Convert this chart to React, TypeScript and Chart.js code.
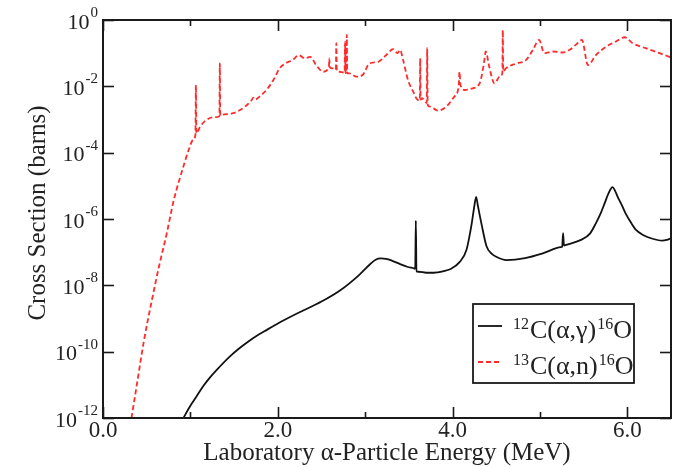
import React, { useEffect, useRef } from "react";
import { Chart, registerables } from "chart.js";

Chart.register(...registerables);

// ---- Data (x: laboratory alpha energy in MeV, y: log10 of cross section in barns) ----
const captureEnergy = [
  0.92, 1.0, 1.07, 1.15, 1.23, 1.33, 1.45, 1.55, 1.66, 1.76, 1.87, 2.08, 2.29, 2.5, 2.72, 2.93, 3.05, 3.12,
  3.18, 3.24, 3.31, 3.4, 3.48, 3.56, 3.573, 3.58, 3.587, 3.61, 3.7, 3.78, 3.9, 3.99, 4.08, 4.16, 4.22, 4.25,
  4.27, 4.29, 4.33, 4.39, 4.45, 4.5, 4.62, 4.83, 5.04, 5.24, 5.255, 5.265, 5.275, 5.3, 5.47, 5.57, 5.64, 5.7,
  5.74, 5.79, 5.83, 5.86, 5.89, 5.94, 5.98, 6.04, 6.1, 6.18, 6.27, 6.4, 6.45, 6.5,
];
const captureLog10Sigma = [
  -12, -11.63, -11.35, -11.03, -10.76, -10.47, -10.15, -9.92, -9.7, -9.52, -9.35, -9.04, -8.76, -8.49, -8.14,
  -7.69, -7.38, -7.23, -7.19, -7.2, -7.26, -7.36, -7.44, -7.49, -7.5, -6.05, -7.58, -7.59, -7.62, -7.62, -7.57,
  -7.49, -7.3, -6.93, -6.13, -5.6, -5.33, -5.6, -6.13, -6.83, -7.05, -7.14, -7.24, -7.18, -7.03, -6.85, -6.84,
  -6.43, -6.8, -6.78, -6.63, -6.45, -6.13, -5.8, -5.53, -5.2, -5.04, -5.15, -5.33, -5.6, -5.83, -6.1, -6.33,
  -6.48, -6.58, -6.65, -6.63, -6.58,
];

const alphaNEnergy = [
  0.326, 0.39, 0.47, 0.56, 0.64, 0.73, 0.81, 0.92, 0.98, 1.03, 1.058, 1.063, 1.068, 1.11, 1.185, 1.28, 1.332,
  1.337, 1.342, 1.36, 1.49, 1.6, 1.7, 1.72, 1.74, 1.79, 1.87, 1.95, 2.02, 2.1, 2.17, 2.24, 2.31, 2.37, 2.44,
  2.52, 2.585, 2.59, 2.595, 2.63, 2.665, 2.67, 2.675, 2.7, 2.765, 2.77, 2.775, 2.785, 2.79, 2.795, 2.82, 2.9,
  2.97, 3.05, 3.15, 3.24, 3.32, 3.37, 3.4, 3.43, 3.49, 3.55, 3.6, 3.625, 3.63, 3.635, 3.65, 3.705, 3.71, 3.715,
  3.74, 3.83, 3.93, 4.02, 4.07, 4.08, 4.09, 4.14, 4.23, 4.31, 4.36, 4.38, 4.42, 4.48, 4.54, 4.57, 4.575, 4.58,
  4.61, 4.73, 4.84, 4.92, 4.99, 5.05, 5.15, 5.26, 5.34, 5.41, 5.48, 5.55, 5.64, 5.76, 5.87, 5.97, 6.06, 6.21,
  6.37, 6.5,
];
const alphaNLog10Sigma = [
  -12, -10.95, -9.65, -8.44, -7.44, -6.43, -5.43, -4.42, -3.92, -3.62, -3.45, -1.96, -3.42, -3.22, -3.01, -2.93,
  -2.9, -1.31, -2.88, -2.86, -2.81, -2.66, -2.42, -2.34, -2.4, -2.31, -2.11, -1.81, -1.46, -1.29, -1.21, -1.06,
  -1.16, -1.11, -1.36, -1.56, -1.42, -1.16, -1.42, -1.46, -1.5, -0.7, -1.52, -1.56, -1.58, -0.65, -1.6, -1.6,
  -0.45, -1.6, -1.61, -1.71, -1.66, -1.31, -1.26, -1.06, -0.88, -1.0, -0.9, -1.16, -1.81, -2.16, -2.41, -2.42,
  -1.16, -2.4, -2.36, -2.5, -0.85, -2.55, -2.61, -2.73, -2.61, -2.31, -2.0, -1.56, -1.95, -2.11, -2.06, -1.91,
  -1.3, -0.95, -1.41, -1.91, -1.71, -1.6, -0.3, -1.55, -1.46, -1.31, -1.21, -0.9, -0.6, -1.0, -0.95, -0.98,
  -0.9, -0.75, -0.6, -1.36, -1.06, -0.8, -0.65, -0.52, -0.7, -0.85, -1.0, -1.13,
];

const xMajorTicks = [0, 2, 4, 6];
const xMinorTicks = [1, 3, 5];
const xTickLabels = ["0.0", "2.0", "4.0", "6.0"];
const yTickExponents = [0, -2, -4, -6, -8, -10, -12];

const xTitle = "Laboratory \u03b1-Particle Energy (MeV)";
const yTitle = "Cross Section (barns)";
const legendRows = [
  { pre: "12", main: "C(\u03b1,\u03b3)", post: "16", last: "O", color: "#111111", dash: [] as number[] },
  { pre: "13", main: "C(\u03b1,n)", post: "16", last: "O", color: "#ff2a2a", dash: [5, 3] },
];

const SERIF = '"Liberation Serif", "Times New Roman", serif';
const TEXT = "#222222";

const decorPlugin = {
  id: "decor",
  afterDatasetsDraw(chart: any) {
    const { ctx, chartArea: a, scales } = chart;
    const xs = scales.x;
    const ys = scales.y;
    ctx.save();
    ctx.strokeStyle = "#1a1a1a";
    ctx.lineWidth = 2;
    const seg = (x1: number, y1: number, x2: number, y2: number) => {
      ctx.beginPath();
      ctx.moveTo(x1, y1);
      ctx.lineTo(x2, y2);
      ctx.stroke();
    };
    // frame
    ctx.strokeRect(a.left, a.top, a.right - a.left, a.bottom - a.top);
    // x ticks (inward, bottom and top)
    ctx.lineWidth = 1.6;
    xMajorTicks.forEach((v) => {
      const px = Math.round(xs.getPixelForValue(v)) + 0.5;
      seg(px, a.bottom, px, a.bottom - 11);
      seg(px, a.top, px, a.top + 11);
    });
    xMinorTicks.forEach((v) => {
      const px = Math.round(xs.getPixelForValue(v)) + 0.5;
      seg(px, a.bottom, px, a.bottom - 6);
      seg(px, a.top, px, a.top + 6);
    });
    // y ticks (inward, left and right)
    yTickExponents.forEach((e) => {
      const py = Math.round(ys.getPixelForValue(Math.pow(10, e))) + 0.5;
      seg(a.left, py, a.left + 11, py);
      seg(a.right, py, a.right - 11, py);
    });

    // tick labels
    ctx.fillStyle = TEXT;
    ctx.textBaseline = "middle";
    ctx.textAlign = "center";
    ctx.font = `23px ${SERIF}`;
    xMajorTicks.forEach((v, i) => {
      ctx.fillText(xTickLabels[i], xs.getPixelForValue(v), a.bottom + 13);
    });
    yTickExponents.forEach((e) => {
      const py = ys.getPixelForValue(Math.pow(10, e));
      const expStr = String(e);
      ctx.textAlign = "right";
      ctx.font = `15px ${SERIF}`;
      const ew = ctx.measureText(expStr).width;
      ctx.fillText(expStr, a.left - 5, py - 7);
      ctx.font = `22px ${SERIF}`;
      ctx.fillText("10", a.left - 6 - ew, py + 3);
    });

    // axis titles
    ctx.textAlign = "center";
    ctx.textBaseline = "alphabetic";
    ctx.font = `25px ${SERIF}`;
    ctx.fillText(xTitle, (a.left + a.right) / 2, a.bottom + 42);
    ctx.save();
    ctx.translate(45, (a.top + a.bottom) / 2 - 6);
    ctx.rotate(-Math.PI / 2);
    ctx.fillText(yTitle, 0, 0);
    ctx.restore();

    // legend
    const lx = a.left + 370;
    const ly = a.top + 284;
    const lw = 161;
    const lh = 79;
    ctx.fillStyle = "#ffffff";
    ctx.fillRect(lx, ly, lw, lh);
    ctx.strokeStyle = "#1a1a1a";
    ctx.lineWidth = 1.8;
    ctx.strokeRect(lx, ly, lw, lh);
    legendRows.forEach((r, i) => {
      const base = ly + 34 + i * 36;
      ctx.strokeStyle = r.color;
      ctx.lineWidth = 1.8;
      ctx.setLineDash(r.dash);
      seg(lx + 5, base - 12, lx + 29, base - 12);
      ctx.setLineDash([]);
      ctx.fillStyle = TEXT;
      ctx.textAlign = "left";
      let cx = lx + 40;
      ctx.font = `16px ${SERIF}`;
      ctx.fillText(r.pre, cx, base - 9);
      cx += ctx.measureText(r.pre).width + 1;
      ctx.font = `26px ${SERIF}`;
      ctx.fillText(r.main, cx, base);
      cx += ctx.measureText(r.main).width + 1;
      ctx.font = `16px ${SERIF}`;
      ctx.fillText(r.post, cx, base - 9);
      cx += ctx.measureText(r.post).width;
      ctx.font = `26px ${SERIF}`;
      ctx.fillText(r.last, cx, base);
    });
    ctx.restore();
  },
};

export default function App() {
  const canvasRef = useRef<HTMLCanvasElement | null>(null);

  useEffect(() => {
    const canvas = canvasRef.current;
    if (!canvas) return;
    const toPoints = (xsArr: number[], ysArr: number[]) =>
      xsArr.map((x, i) => ({ x, y: Math.pow(10, ysArr[i]) }));

    const chart = new Chart(canvas, {
      type: "line",
      data: {
        datasets: [
          {
            label: "12C(a,g)16O",
            data: toPoints(captureEnergy, captureLog10Sigma),
            borderColor: "#111111",
            borderWidth: 1.8,
            pointRadius: 0,
            cubicInterpolationMode: "monotone",
            fill: false,
          },
          {
            label: "13C(a,n)16O",
            data: toPoints(alphaNEnergy, alphaNLog10Sigma),
            borderColor: "#ff2a2a",
            borderWidth: 1.8,
            borderDash: [5, 3],
            pointRadius: 0,
            cubicInterpolationMode: "monotone",
            fill: false,
          },
        ],
      },
      options: {
        responsive: false,
        animation: false,
        devicePixelRatio: 1,
        layout: { padding: { left: 103, top: 20, right: 8, bottom: 49 } },
        plugins: { legend: { display: false }, tooltip: { enabled: false } },
        scales: {
          x: { type: "linear", min: 0, max: 6.5, display: false },
          y: { type: "logarithmic", min: 1e-12, max: 1, display: false },
        },
      },
      plugins: [decorPlugin],
    } as any);
    return () => chart.destroy();
  }, []);

  return (
    <div style={{ position: "absolute", left: 0, top: 0, width: 679, height: 467, background: "#fff" }}>
      <canvas ref={canvasRef} width={679} height={467} style={{ display: "block" }} />
    </div>
  );
}
